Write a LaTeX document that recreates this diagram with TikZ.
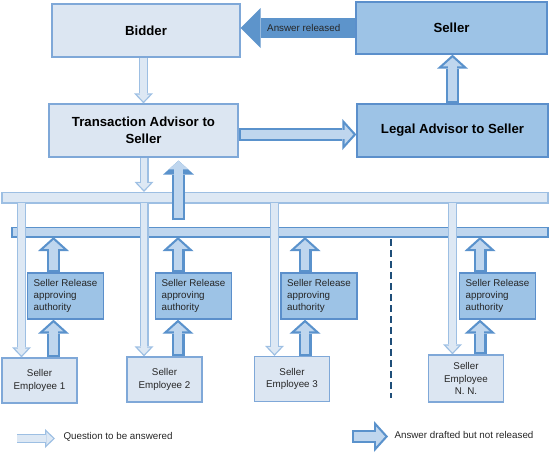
\documentclass[tikz,border=0pt]{standalone}
\usepackage{fontspec}
\setmainfont{Liberation Sans}
\usetikzlibrary{arrows.meta}
\definecolor{lightfill}{HTML}{DCE6F2}
\definecolor{lightline}{HTML}{7FA8D8}
\definecolor{midfill}{HTML}{9DC3E6}
\definecolor{midline}{HTML}{5B8FCB}
\definecolor{qfill}{HTML}{DDE8F4}
\definecolor{qline}{HTML}{9DBFE3}
\definecolor{afill}{HTML}{BFD6EE}
\definecolor{aline}{HTML}{5A92CC}
\definecolor{relfill}{HTML}{5D94CB}
\definecolor{divline}{HTML}{1F4E79}
\definecolor{txt}{HTML}{262626}

\tikzset{
  lightbox/.style={draw=lightline, fill=lightfill, line width=1.3pt, inner sep=0pt},
  midbox/.style={draw=midline, fill=midfill, line width=1.3pt, inner sep=0pt},
  title/.style={font=\bfseries\fontsize{13.2}{17}\selectfont, align=center, text=black},
  small/.style={font=\fontsize{9.8}{12.2}\selectfont, text=txt},
  relbox/.style={midbox, small, align=left, minimum width=76pt, minimum height=46pt},
  empbox/.style={lightbox, small, align=center, minimum width=75pt, minimum height=45pt},
  question/.style={draw=qline, line width=9pt, -{Triangle[length=10pt,width=19pt,line width=0pt]},
    postaction={draw=qfill, line width=6.4pt, -{Triangle[length=6.8pt,width=12.9pt,line width=0pt]}, shorten >=1.9pt}},
  answer/.style={draw=aline, line width=13pt, -{Triangle[length=14pt,width=31pt,line width=0pt]},
    postaction={draw=afill, line width=8.6pt, -{Triangle[length=8.8pt,width=19.6pt,line width=0pt]}, shorten >=3pt, shorten <=2.2pt}},
  released/.style={draw=relfill, line width=20pt, -{Triangle[length=20pt,width=40pt,line width=0pt]}},
}

\begin{document}
\begin{tikzpicture}[x=1pt,y=-1pt]
\useasboundingbox (0,0) rectangle (550,455);

% top row
\node[lightbox, title, minimum width=188pt, minimum height=53pt] (bidder) at (146,30.5) {Bidder};
\node[midbox, title, minimum width=191pt, minimum height=52pt] (seller) at (451.5,28) {Seller};
\node[lightbox, title, minimum width=189pt, minimum height=53pt] (ta) at (143.5,130.5) {Transaction Advisor to\\Seller};
\node[midbox, title, minimum width=191pt, minimum height=53pt] (legal) at (452.5,130.5) {Legal Advisor to Seller};

% the two bars
\node[draw=qline, fill=qfill, line width=1.2pt, inner sep=0pt, minimum width=546pt, minimum height=10.5pt] (qbar) at (275,197.75) {};
\node[draw=aline, fill=afill, line width=1.6pt, inner sep=0pt, minimum width=536pt, minimum height=9.5pt] (abar) at (280,232.25) {};

% release and employees
\node[relbox] (rel1) at (65.5,296) {Seller Release\\approving\\authority};
\node[relbox] (rel2) at (193.5,296) {Seller Release\\approving\\authority};
\node[relbox] (rel3) at (319,296) {Seller Release\\approving\\authority};
\node[relbox] (relN) at (497.5,296) {Seller Release\\approving\\authority};
\node[empbox] (emp1) at (39.5,380.5) {Seller\\Employee 1};
\node[empbox] (emp2) at (164.5,379.5) {Seller\\Employee 2};
\node[empbox] (emp3) at (292,379) {Seller\\Employee 3};
\node[empbox, minimum height=47pt] (empN) at (466,378.5) {Seller\\Employee\\N. N.};

% columns
\coordinate (q1) at (21.5,203);
\coordinate (q2) at (144,203);
\coordinate (q3) at (274.5,203);
\coordinate (qN) at (452.5,203);
\coordinate (a1) at (53.5,237);
\coordinate (a2) at (178,237);
\coordinate (a3) at (305,237);
\coordinate (aN) at (480,237);
\coordinate (up) at (178.5,220);

% questions
\draw[question] (bidder.south -| ta.north) -- (ta.north);
\draw[question] (ta.south -| q2) -- (qbar.north -| q2);
\foreach \col/\emp in {q1/emp1, q2/emp2, q3/emp3, qN/empN}
  \draw[question] (\col) -- (\col |- \emp.north);

% answers
\foreach \col/\rel/\emp in {a1/rel1/emp1, a2/rel2/emp2, a3/rel3/emp3, aN/relN/empN}{
  \draw[answer] (\col |- \rel.north) -- (\col);
  \draw[answer] (\col |- \emp.north) -- (\col |- \rel.south);
}
\draw[answer, shorten >=3pt] (up) -- (up |- ta.south);
\draw[answer] ([yshift=-4pt]ta.east) -- ([yshift=-4pt]legal.west);
\draw[answer] (legal.north) -- (legal.north |- seller.south);
\draw[released] (seller.west) -- (bidder.east |- seller.west) node[pos=0.45, small] {Answer released};

% divider
\draw[divline, line width=2.6pt, dash pattern=on 7pt off 4pt] (391,239) -- (391,398);

% legend
\coordinate (lq1) at (17,438.5);
\coordinate (lq2) at (55,438.5);
\coordinate (la1) at (352,436.5);
\coordinate (la2) at (388,436.5);
\draw[question] (lq1) -- (lq2);
\node[small, anchor=west] (lqtext) at (60,437) {Question to be answered};
\draw[answer] (la1) -- (la2);
\node[small, anchor=west] (latext) at (391,435) {Answer drafted but not released};
\end{tikzpicture}
\end{document}
